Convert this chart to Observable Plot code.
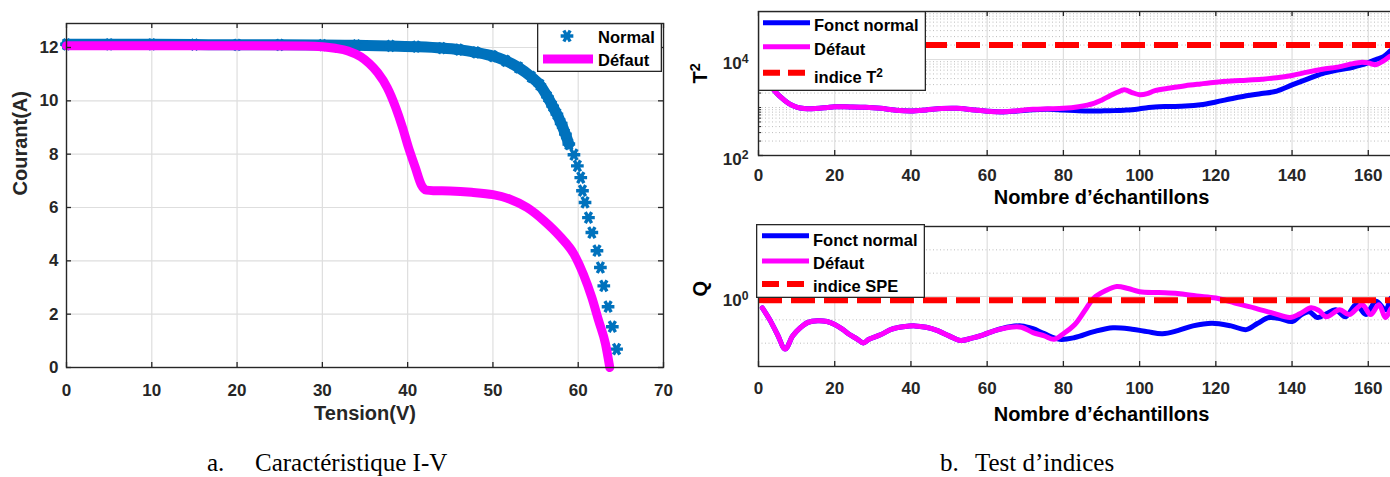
<!DOCTYPE html>
<html>
<head>
<meta charset="utf-8">
<script src="https://cdn.jsdelivr.net/npm/d3@7"></script>
<script src="https://cdn.jsdelivr.net/npm/@observablehq/plot@0.6"></script>
<style>
  html, body { margin: 0; padding: 0; background: #fff; overflow: hidden; width: 1390px; height: 477px; }
  #page { position: relative; width: 1390px; height: 477px; overflow: hidden; }
</style>
</head>
<body>
<div id="page"></div>
<script>
// ---------- data ----------
// a. I-V characteristic (tension in V, courant in A)
const ivNormalV = [0,5,10,15,20,25,30,34,38,41,44,46,48,50,51.5,53,54.5,55.5,56.4,57,57.5,58,58.5,58.9,59.5,59.9,60.3,60.5,60.8,61.2,61.6,62.2,62.6,63,63.5,64,64.5];
const ivNormalI = [12.12,12.12,12.12,12.11,12.1,12.1,12.09,12.08,12.06,12.03,11.98,11.92,11.82,11.68,11.5,11.25,10.9,10.6,10.15,9.8,9.5,9.15,8.75,8.38,7.98,7.56,7.12,6.63,6.19,5.62,5.06,4.38,3.75,3.06,2.28,1.53,0.69];
const ivDefautV = [0,10,20,28,30,31.5,33,34.5,35.5,36.5,37.6,38.6,39.4,40.1,40.9,41.6,42.2,43,45,47.5,50,52,54,56,57.9,59.5,60.6,61.6,62.4,63.2,63.7];
const ivDefautI = [12.07,12.07,12.07,12.06,12.03,11.97,11.87,11.65,11.4,11.05,10.5,9.75,9.0,8.25,7.5,6.85,6.65,6.63,6.62,6.57,6.48,6.31,6.0,5.5,4.9,4.25,3.5,2.62,1.75,0.88,0.0];
const tensionTicks = [0,10,20,30,40,50,60,70];
const courantTicks = [0,2,4,6,8,10,12];

// b. T² index per sample
const t2Samples = [1,2,3,4,6,8,10,12,14,16,18,20,24,28,32,36,40,44,48,52,56,60,64,68,72,76,80,84,88,90,92,94,96,98,100,102,104,108,112,116,120,124,128,132,136,140,144,148,152,156,158,160,162,164,166,167];
const t2Normal  = [7000,5000,3300,2350,1600,1200,1020,950,940,960,1000,1040,1030,1010,960,880,850,890,950,960,900,840,810,850,900,920,890,860,850,850,855,865,880,900,940,990,1030,1050,1070,1140,1300,1520,1760,1950,2200,2950,3900,5100,6000,6900,7600,8600,10000,11500,15500,17000];
const t2Defaut  = [7000,5000,3300,2350,1600,1200,1020,950,940,960,1000,1040,1030,1010,960,880,850,890,950,960,900,840,820,860,920,940,960,1040,1220,1420,1720,2050,2330,2050,1850,1950,2250,2550,2850,3100,3350,3550,3700,3880,4150,4650,5450,6250,6950,8200,8700,8500,7800,9400,12000,12500];
const t2Limit = 20000;

// b. Q (SPE) index per sample
const qNormalSamples = [1,3,5,7,9,11,13,15.5,18,20,22,24,26,27.5,29,32,35,38,41,44,47,50,53,56,59,62,66,69,72,75,79,83,88,93,98,102,106,110,114,119,124,128,131,134,137,140,142.5,144.5,146.6,149,151.4,154,156.8,159.4,162,164.6,166,167];
const qNormal = [0.80,0.63,0.47,0.355,0.46,0.54,0.60,0.62,0.61,0.575,0.525,0.47,0.43,0.40,0.43,0.47,0.525,0.55,0.56,0.545,0.51,0.46,0.42,0.44,0.47,0.51,0.55,0.56,0.53,0.48,0.43,0.445,0.50,0.54,0.525,0.50,0.48,0.51,0.56,0.59,0.56,0.52,0.59,0.66,0.645,0.61,0.70,0.74,0.66,0.71,0.77,0.67,0.85,0.70,0.91,0.77,0.97,0.90];
const qDefautSamples = [1,3,5,7,9,11,13,15.5,18,20,22,24,26,27.5,29,32,35,38,41,44,47,50,53,56,59,62,66,69,72,75,77.5,80,83,86,88,91,94,97,100,105,110,115,120,125,130,135,139.5,142,145,147,149,152.5,155,158.4,160.6,162.8,164.5,166,167];
const qDefaut = [0.80,0.63,0.47,0.355,0.46,0.54,0.60,0.62,0.61,0.575,0.525,0.47,0.43,0.40,0.43,0.47,0.525,0.55,0.56,0.545,0.51,0.46,0.42,0.44,0.47,0.51,0.545,0.545,0.49,0.46,0.43,0.48,0.575,0.79,0.97,1.12,1.22,1.17,1.10,1.08,1.06,1.01,0.97,0.88,0.80,0.72,0.66,0.71,0.80,0.76,0.67,0.77,0.70,0.85,0.70,0.85,0.66,0.79,0.85];
const qLimit = 0.93;

const sampleTicks = [0,20,40,60,80,100,120,140,160];
const t2MajorTicks = [1e2, 1e4];
const t2Decades = [1e2, 1e3, 1e4];
const logMantissas = [2,3,4,5,6,7,8,9];
const qMajorTicks = [1];
const qMinorGrid = [0.398, 0.631, 1.585, 2.512];

// ---------- styling ----------
const FONT = "'Liberation Sans', Arial, Helvetica, sans-serif";
const AXIS = "#262626";
const GRID = "#dedede";
const MINOR = "#bdbdbd";
const IV_BLUE = "#0072bd";
const BLUE = "#0000ff";
const MAGENTA = "#ff00ff";
const RED = "#ff0000";

const page = document.getElementById("page");

function place(node, left, top) {
  node.style.position = "absolute";
  node.style.left = left + "px";
  node.style.top = top + "px";
  page.appendChild(node);
  return node;
}

// "10^4" -> 10 with a raised 4
function superscript(sel) {
  const t = sel.text();
  const m = /^(.*)\^(.+)$/.exec(t);
  if (!m) return;
  sel.text(null);
  sel.append("tspan").text(m[1]);
  sel.append("tspan").attr("dy", "-0.5em").attr("font-size", "0.72em").text(m[2]);
}
function superscriptAll(node) {
  d3.select(node).selectAll("text").each(function () { superscript(d3.select(this)); });
}

// ---------- a. I-V characteristic ----------
const iv = {w: 680, h: 440, top: 23, right: 17, bottom: 73, left: 66};
const ivPW = iv.w - iv.left - iv.right, ivPH = iv.h - iv.top - iv.bottom;
const normalRows = ivNormalV.map((v, i) => ({v, a: ivNormalI[i]}));
const defautRows = ivDefautV.map((v, i) => ({v, a: ivDefautI[i]}));

const ivChart = Plot.plot({
  width: iv.w, height: iv.h,
  marginTop: iv.top, marginRight: iv.right, marginBottom: iv.bottom, marginLeft: iv.left,
  style: {fontFamily: FONT, fontWeight: "bold", color: AXIS, background: "transparent", overflow: "visible"},
  x: {domain: [0, 70]},
  y: {domain: [0, 12.9]},
  marks: [
    Plot.gridX(tensionTicks.slice(1, -1), {stroke: GRID, strokeOpacity: 1, strokeWidth: 1.2}),
    Plot.gridY(courantTicks.slice(1), {stroke: GRID, strokeOpacity: 1, strokeWidth: 1.2}),
    Plot.line(normalRows.filter(d => d.v <= 58.9), {x: "v", y: "a", stroke: IV_BLUE, strokeWidth: 11, curve: "monotone-x"}),
    Plot.dot(normalRows, {x: "v", y: "a", symbol: "asterisk", r: 6, rotate: 90, stroke: IV_BLUE, strokeWidth: 3.4}),
    Plot.line(defautRows, {x: "v", y: "a", stroke: MAGENTA, strokeWidth: 9, curve: "monotone-x"}),
    Plot.frame({stroke: AXIS, strokeWidth: 1.4}),
    Plot.ruleX(tensionTicks, {x: d => d, stroke: AXIS, strokeWidth: 1.3, insetTop: ivPH - 5}),
    Plot.ruleX(tensionTicks, {x: d => d, stroke: AXIS, strokeWidth: 1.3, insetBottom: ivPH - 5}),
    Plot.ruleY(courantTicks, {y: d => d, stroke: AXIS, strokeWidth: 1.3, insetRight: ivPW - 5}),
    Plot.ruleY(courantTicks, {y: d => d, stroke: AXIS, strokeWidth: 1.3, insetLeft: ivPW - 5}),
    Plot.axisX(tensionTicks, {tickSize: 0, tickPadding: 16, fontSize: 17, label: null}),
    Plot.axisY(courantTicks, {tickSize: 0, tickPadding: 8, fontSize: 17, label: null}),
    Plot.text(["Tension(V)"], {frameAnchor: "bottom", dy: 52, fontSize: 20}),
    Plot.text(["Courant(A)"], {frameAnchor: "left", dx: -46, rotate: -90, fontSize: 20})
  ]
});
place(ivChart, 0, 0);

// ---------- b. index panels ----------
const rp = {w: 780, left: 78, right: 16};
const rPW = rp.w - rp.left - rp.right;

// T² panel
const t2 = {h: 215, top: 11, bottom: 60};
const t2PH = t2.h - t2.top - t2.bottom;
const t2Minor = t2Decades.flatMap(d => logMantissas.map(m => m * d)).concat([1e3]);
const t2NormalRows = t2Samples.map((s, i) => ({s, v: t2Normal[i]}));
const t2DefautRows = t2Samples.map((s, i) => ({s, v: t2Defaut[i]}));

const t2Chart = Plot.plot({
  width: rp.w, height: t2.h,
  marginTop: t2.top, marginRight: rp.right, marginBottom: t2.bottom, marginLeft: rp.left,
  style: {fontFamily: FONT, fontWeight: "bold", color: AXIS, background: "transparent", overflow: "visible"},
  x: {domain: [0, 180]},
  y: {type: "log", domain: [1e2, 1e5]},
  marks: [
    Plot.gridY(t2Minor, {stroke: MINOR, strokeOpacity: 1, strokeWidth: 1, strokeDasharray: "1,2.5"}),
    Plot.gridY(t2MajorTicks, {stroke: GRID, strokeOpacity: 1, strokeWidth: 1.2}),
    Plot.gridX(sampleTicks.slice(1), {stroke: GRID, strokeOpacity: 1, strokeWidth: 1.2}),
    Plot.line(t2NormalRows, {x: "s", y: "v", stroke: BLUE, strokeWidth: 5, curve: "catmull-rom"}),
    Plot.line(t2DefautRows, {x: "s", y: "v", stroke: MAGENTA, strokeWidth: 5, curve: "catmull-rom"}),
    Plot.ruleY([t2Limit], {y: d => d, stroke: RED, strokeWidth: 6, strokeDasharray: "24,9"}),
    Plot.frame({stroke: AXIS, strokeWidth: 1.4}),
    Plot.ruleX(sampleTicks, {x: d => d, stroke: AXIS, strokeWidth: 1.3, insetTop: t2PH - 5}),
    Plot.ruleX(sampleTicks, {x: d => d, stroke: AXIS, strokeWidth: 1.3, insetBottom: t2PH - 5}),
    Plot.ruleY(t2Minor, {y: d => d, stroke: AXIS, strokeWidth: 1, insetRight: rPW - 3}),
    Plot.ruleY(t2MajorTicks, {y: d => d, stroke: AXIS, strokeWidth: 1.3, insetRight: rPW - 5}),
    Plot.axisX(sampleTicks, {tickSize: 0, tickPadding: 13.5, fontSize: 17, label: null}),
    Plot.axisY(t2MajorTicks, {tickSize: 0, tickPadding: 10, fontSize: 17, dy: 4, label: null,
      tickFormat: d => "10^" + Math.round(Math.log10(d))}),
    Plot.text(["Nombre d’échantillons"], {frameAnchor: "bottom", dy: 48, fontSize: 20, fill: "#000"}),
    Plot.text(["T^2"], {frameAnchor: "left", dx: -58, rotate: -90, fontSize: 20, fill: "#000"})
  ]
});
superscriptAll(t2Chart);
place(t2Chart, 680, 0);

// Q panel
const qp = {h: 225, top: 11, bottom: 74};
const qPH = qp.h - qp.top - qp.bottom;
const qNormalRows = qNormalSamples.map((s, i) => ({s, v: qNormal[i]}));
const qDefautRows = qDefautSamples.map((s, i) => ({s, v: qDefaut[i]}));

const qChart = Plot.plot({
  width: rp.w, height: qp.h,
  marginTop: qp.top, marginRight: rp.right, marginBottom: qp.bottom, marginLeft: rp.left,
  style: {fontFamily: FONT, fontWeight: "bold", color: AXIS, background: "transparent", overflow: "visible"},
  x: {domain: [0, 180]},
  y: {type: "log", domain: [Math.pow(10, -0.6), Math.pow(10, 0.6)]},
  marks: [
    Plot.gridY(qMinorGrid, {stroke: MINOR, strokeOpacity: 1, strokeWidth: 1, strokeDasharray: "1,2.5"}),
    Plot.gridY(qMajorTicks, {stroke: GRID, strokeOpacity: 1, strokeWidth: 1.2}),
    Plot.gridX(sampleTicks.slice(1), {stroke: GRID, strokeOpacity: 1, strokeWidth: 1.2}),
    Plot.line(qNormalRows, {x: "s", y: "v", stroke: BLUE, strokeWidth: 5, curve: "catmull-rom"}),
    Plot.line(qDefautRows, {x: "s", y: "v", stroke: MAGENTA, strokeWidth: 5, curve: "catmull-rom"}),
    Plot.ruleY([qLimit], {y: d => d, stroke: RED, strokeWidth: 6, strokeDasharray: "24,9"}),
    Plot.frame({stroke: AXIS, strokeWidth: 1.4}),
    Plot.ruleX(sampleTicks, {x: d => d, stroke: AXIS, strokeWidth: 1.3, insetTop: qPH - 5}),
    Plot.ruleX(sampleTicks, {x: d => d, stroke: AXIS, strokeWidth: 1.3, insetBottom: qPH - 5}),
    Plot.ruleY(qMajorTicks, {y: d => d, stroke: AXIS, strokeWidth: 1.3, insetRight: rPW - 5}),
    Plot.axisX(sampleTicks, {tickSize: 0, tickPadding: 15.5, fontSize: 17, label: null}),
    Plot.axisY(qMajorTicks, {tickSize: 0, tickPadding: 10, fontSize: 17, dy: 4, label: null,
      tickFormat: d => "10^" + Math.round(Math.log10(d))}),
    Plot.text(["Nombre d’échantillons"], {frameAnchor: "bottom", dy: 54, fontSize: 20, fill: "#000"}),
    Plot.text(["Q"], {frameAnchor: "left", dx: -58, rotate: -90, fontSize: 20, fill: "#000"})
  ]
});
superscriptAll(qChart);
place(qChart, 680, 215);

// ---------- legends ----------
function legend({left, top, width, height, rows}) {
  const svg = d3.create("svg")
    .attr("width", width).attr("height", height)
    .style("font-family", FONT).style("font-weight", "bold").style("font-size", "16.5px");
  svg.append("rect")
    .attr("x", 0.65).attr("y", 0.65).attr("width", width - 1.3).attr("height", height - 1.3)
    .attr("fill", "#fff").attr("stroke", AXIS).attr("stroke-width", 1.3);
  for (const r of rows) {
    if (r.symbol) {
      svg.append("path")
        .attr("transform", `translate(${r.x1},${r.y}) rotate(90)`)
        .attr("d", d3.symbol(d3.symbolAsterisk, Math.PI * 36)())
        .attr("fill", "none").attr("stroke", r.stroke).attr("stroke-width", 3.4);
    } else {
      svg.append("line")
        .attr("x1", r.x1).attr("x2", r.x2).attr("y1", r.y).attr("y2", r.y)
        .attr("stroke", r.stroke).attr("stroke-width", r.width)
        .attr("stroke-dasharray", r.dash || null);
    }
    const t = svg.append("text").attr("x", r.tx).attr("y", r.ty).attr("fill", "#000").text(r.label);
    superscript(t);
  }
  place(svg.node(), left, top);
}

legend({left: 537, top: 23, width: 125, height: 49, rows: [
  {symbol: true, x1: 30, y: 13, stroke: IV_BLUE, label: "Normal", tx: 61, ty: 19.5},
  {x1: 6, x2: 56, y: 36, stroke: MAGENTA, width: 9, label: "Défaut", tx: 61, ty: 43}
]});

legend({left: 758, top: 11, width: 168, height: 80, rows: [
  {x1: 5, x2: 52, y: 11.7, stroke: BLUE, width: 5, label: "Fonct normal", tx: 56, ty: 19.7},
  {x1: 5, x2: 52, y: 35.7, stroke: MAGENTA, width: 5, label: "Défaut", tx: 56, ty: 44},
  {x1: 5, x2: 52, y: 61.7, stroke: RED, width: 6, dash: "17,8", label: "indice T^2", tx: 56, ty: 72}
]});

legend({left: 756, top: 224, width: 169, height: 74, rows: [
  {x1: 6, x2: 53, y: 11.7, stroke: BLUE, width: 5, label: "Fonct normal", tx: 57, ty: 21.5},
  {x1: 6, x2: 53, y: 37, stroke: MAGENTA, width: 5, label: "Défaut", tx: 57, ty: 44.5},
  {x1: 6, x2: 53, y: 60, stroke: RED, width: 6, dash: "17,8", label: "indice SPE", tx: 57, ty: 67.5}
]});

// ---------- captions ----------
const cap = d3.create("svg").attr("width", 1390).attr("height", 37)
  .style("font-family", "'Liberation Serif', 'Times New Roman', serif").style("font-size", "25px");
[["a.", 207], ["Caractéristique I-V", 255], ["b.", 940], ["Test d’indices", 975]].forEach(([s, x]) => {
  cap.append("text").attr("x", x).attr("y", 30.5).attr("fill", "#000").text(s);
});
place(cap.node(), 0, 440);
</script>
</body>
</html>
